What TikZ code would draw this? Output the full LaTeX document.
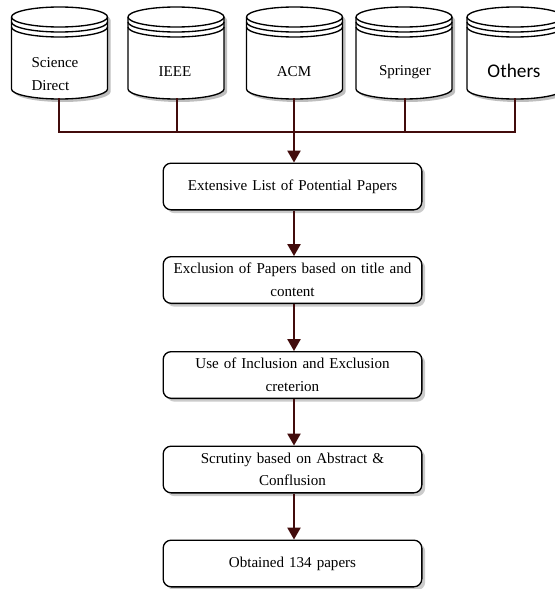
\documentclass[tikz,border=0pt]{standalone}
\usepackage{fontspec}
\setmainfont{Liberation Serif}
\newfontfamily\calibrifont{Carlito}
\usetikzlibrary{arrows.meta,shadows}

\definecolor{linkcol}{RGB}{66,12,12}
\definecolor{shadecol}{RGB}{190,190,190}

\tikzset{
	stepbox/.style={draw=black, line width=1pt, fill=white, rounded corners=6pt,
		minimum width=194pt, minimum height=35pt, text width=186pt, align=center,
		font=\fontsize{11.3}{17}\selectfont,
		drop shadow={shadow xshift=2.5pt, shadow yshift=-2.5pt, fill=shadecol, opacity=.8}},
	dblabel/.style={font=\fontsize{11.3}{17}\selectfont, align=left, inner sep=0pt},
	link/.style={draw=linkcol, line width=1.2pt},
	flow/.style={link, -{Triangle[width=10pt,length=9pt]}},
	pics/dbcyl/.style={code={
		\fill[shadecol] (-45,-3) -- (-45,-75) arc[start angle=180,end angle=360,x radius=48,y radius=10]
			-- (51,-3) arc[start angle=0,end angle=180,x radius=48,y radius=10] -- cycle;
		\draw[line width=1pt, fill=white] (-48,0) -- (-48,-72) arc[start angle=180,end angle=360,x radius=48,y radius=10]
			-- (48,0) arc[start angle=0,end angle=180,x radius=48,y radius=10] -- cycle;
		\draw[line width=1pt] (-48,0) arc[start angle=180,end angle=360,x radius=48,y radius=10];
		\draw[line width=1pt] (-48,-5) arc[start angle=180,end angle=360,x radius=48,y radius=10];
		\draw[line width=1pt] (-48,-10) arc[start angle=180,end angle=360,x radius=48,y radius=10];
	}}
}

\begin{document}
\begin{tikzpicture}[x=0.75pt, y=0.75pt]

	\useasboundingbox (0,0) rectangle (554,-589);

	% databases
	\pic at (59.5,-17) {dbcyl};
	\pic at (176,-17) {dbcyl};
	\pic at (294.5,-17) {dbcyl};
	\pic at (404,-17) {dbcyl};
	\pic at (515,-17) {dbcyl};

	\node[dblabel] (sd) at (55,-74) {Science\\Direct};
	\node[dblabel] (ieee) at (175,-72) {IEEE};
	\node[dblabel] (acm) at (294,-72) {ACM};
	\node[dblabel] (spr) at (405,-72) {Springer};
	\node[dblabel, font=\calibrifont\fontsize{14.5}{16}\selectfont] (oth) at (514,-71) {Others};

	\coordinate (sd-b) at (59,-98);
	\coordinate (ieee-b) at (177,-98);
	\coordinate (acm-b) at (294,-98);
	\coordinate (spr-b) at (405,-98);
	\coordinate (oth-b) at (515,-98);
	\coordinate (bus) at (294,-132);

	% steps
	\node[stepbox] (list) at (292.5,-186.5) {Extensive List of Potential Papers};
	\node[stepbox] (title) at (292.5,-280) {Exclusion of Papers based on title and\\content};
	\node[stepbox] (crit) at (292.5,-375) {Use of Inclusion and Exclusion\\creterion};
	\node[stepbox] (abs) at (292.5,-469.5) {Scrutiny based on Abstract \&\\Conflusion};
	\node[stepbox] (done) at (292.5,-563.5) {Obtained 134 papers};

	% connectors
	\draw[link] (sd-b) -- (sd-b |- bus) -- (oth-b |- bus) -- (oth-b);
	\draw[link] (ieee-b) -- (ieee-b |- bus);
	\draw[link] (spr-b) -- (spr-b |- bus);
	\draw[link] (acm-b) -- (bus);

	\draw[flow] (bus) -- (bus |- list.north);
	\draw[flow] (list.south -| bus) -- (title.north -| bus);
	\draw[flow] (title.south -| bus) -- (crit.north -| bus);
	\draw[flow] (crit.south -| bus) -- (abs.north -| bus);
	\draw[flow] (abs.south -| bus) -- (done.north -| bus);

\end{tikzpicture}
\end{document}
